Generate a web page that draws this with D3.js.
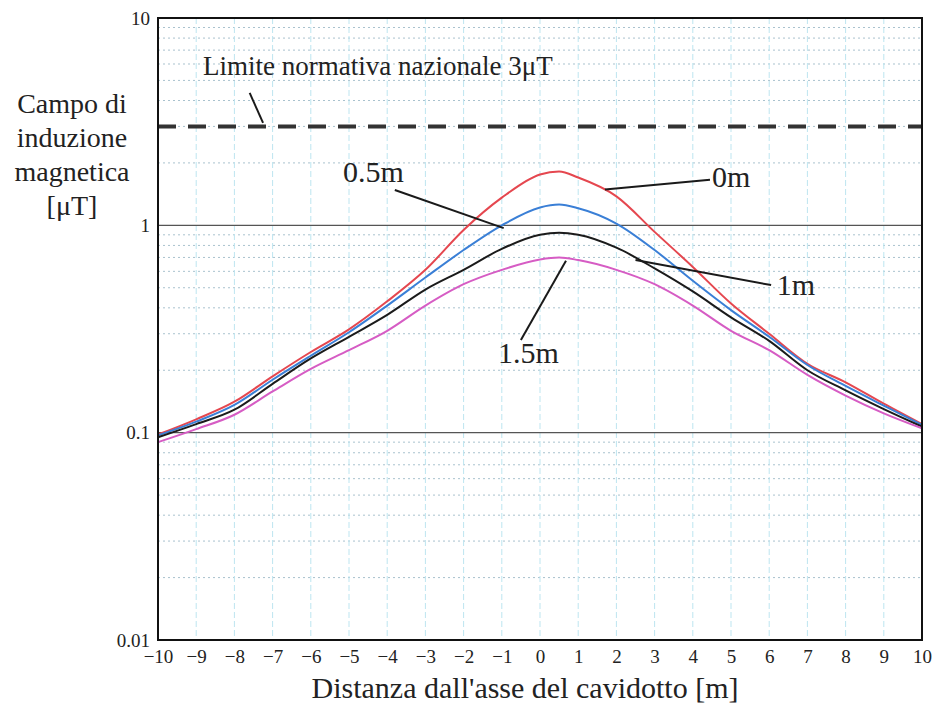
<!DOCTYPE html>
<html>
<head>
<meta charset="utf-8">
<script src="https://cdn.jsdelivr.net/npm/d3@7"></script>
<style>
  body { margin: 0; background: #fff; }
  svg { display: block; }
  text { font-family: "Liberation Serif", "DejaVu Serif", serif; fill: #222; }
</style>
</head>
<body>
<div id="container"></div>
<script>
// distances from the cable axis [m]
const distances = [-10, -9, -8, -7, -6, -5, -4, -3, -2, -1, 0, 0.5, 1, 2, 3, 4, 5, 6, 7, 8, 9, 10];

// field values [uT] for each depth
const field0m   = [0.098, 0.116, 0.141, 0.187, 0.245, 0.315, 0.43, 0.61, 0.95, 1.36, 1.76, 1.82, 1.7, 1.38, 0.93, 0.63, 0.42, 0.30, 0.215, 0.175, 0.138, 0.11];
const field05m  = [0.097, 0.113, 0.136, 0.18, 0.235, 0.305, 0.41, 0.56, 0.76, 1.0, 1.22, 1.26, 1.21, 1.02, 0.76, 0.54, 0.39, 0.29, 0.212, 0.168, 0.135, 0.109];
const field1m   = [0.095, 0.11, 0.129, 0.172, 0.228, 0.29, 0.37, 0.49, 0.61, 0.77, 0.9, 0.92, 0.9, 0.78, 0.62, 0.48, 0.36, 0.277, 0.2, 0.16, 0.13, 0.107];
const field15m  = [0.09, 0.104, 0.122, 0.158, 0.203, 0.25, 0.31, 0.41, 0.52, 0.61, 0.685, 0.7, 0.68, 0.61, 0.52, 0.41, 0.31, 0.25, 0.19, 0.151, 0.124, 0.105];

const seriesNames = ["0m", "0.5m", "1m", "1.5m"];
const seriesColors = ["#e5474f", "#3a7fd6", "#1b1b1b", "#d65cc4"];

const limitValue = 3;

const xTicks = d3.range(-10, 11);
const yTicks = [0.01, 0.1, 1, 10];
const yMajorLines = [0.1, 1];

// annotation labels: [text, text x, text y, leader from x, from y, to x, to y] in data units
const notes = [
    ["Limite normativa nazionale 3\u03bcT", -8.82, 5.3, -7.6, 4.35, -7.25, 3.12],
    ["0.5m", -5.16, 1.62, -3.8, 1.48, -0.95, 0.97],
    ["0m", 4.5, 1.53, 4.45, 1.66, 1.7, 1.49],
    ["1m", 6.2, 0.46, 6.05, 0.515, 2.5, 0.68],
    ["1.5m", -1.1, 0.217, -0.5, 0.28, 0.68, 0.675]
];

const yTitle = ["Campo di", "induzione", "magnetica", "[\u03bcT]"];
const xTitle = "Distanza dall'asse del cavidotto [m]";

let width = 938,
    height = 712,
    margin = { top: 18, right: 16, bottom: 72, left: 158 };

const svg = d3.select("#container").append("svg")
    .attr("width", width)
    .attr("height", height);

const x = d3.scaleLinear()
    .domain([-10, 10])
    .range([margin.left, width - margin.right]);

const y = d3.scaleLog()
    .domain([0.01, 10])
    .range([height - margin.bottom, margin.top]);

// grid
let minorY = [];
[0.01, 0.1, 1].forEach(dec => {
    for (let k = 2; k <= 9; k++) minorY.push(dec * k);
});

svg.append("g").selectAll("line")
    .data(minorY)
    .enter().append("line")
    .attr("x1", x(-10)).attr("x2", x(10))
    .attr("y1", d => y(d)).attr("y2", d => y(d))
    .attr("stroke", "#a9c2ce")
    .attr("stroke-width", 1)
    .attr("stroke-dasharray", "2,3");

svg.append("g").selectAll("line")
    .data(xTicks.slice(1, -1))
    .enter().append("line")
    .attr("x1", d => x(d)).attr("x2", d => x(d))
    .attr("y1", y(10)).attr("y2", y(0.01))
    .attr("stroke", "#bde5f0")
    .attr("stroke-width", 1)
    .attr("stroke-dasharray", "6,3");

svg.append("g").selectAll("line")
    .data(yMajorLines)
    .enter().append("line")
    .attr("x1", x(-10)).attr("x2", x(10))
    .attr("y1", d => y(d)).attr("y2", d => y(d))
    .attr("stroke", "#555")
    .attr("stroke-width", 1.2);

// limit line
svg.append("line")
    .attr("x1", x(-10)).attr("x2", x(10))
    .attr("y1", y(limitValue)).attr("y2", y(limitValue))
    .attr("stroke", "#333")
    .attr("stroke-width", 4)
    .attr("stroke-dasharray", "18,12");

// curves
const allSeries = [field0m, field05m, field1m, field15m];
const line = d3.line()
    .x((d, i) => x(distances[i]))
    .y(d => y(d))
    .curve(d3.curveMonotoneX);

svg.append("g").selectAll("path")
    .data(allSeries)
    .enter().append("path")
    .attr("d", d => line(d))
    .attr("fill", "none")
    .attr("stroke", (d, i) => seriesColors[i])
    .attr("stroke-width", 2);

// frame
svg.append("rect")
    .attr("x", x(-10)).attr("y", y(10))
    .attr("width", x(10) - x(-10))
    .attr("height", y(0.01) - y(10))
    .attr("fill", "none")
    .attr("stroke", "#111")
    .attr("stroke-width", 2);

// axes
const xAxis = d3.axisBottom(x)
    .tickValues(xTicks)
    .tickSize(0)
    .tickPadding(10)
    .tickFormat(d => d < 0 ? "\u2212" + Math.abs(d) : String(d));

const yAxis = d3.axisLeft(y)
    .tickValues(yTicks)
    .tickSize(0)
    .tickPadding(8)
    .tickFormat(d => String(d));

svg.append("g")
    .attr("class", "x axis")
    .attr("transform", `translate(0, ${y(0.01)})`)
    .call(xAxis)
    .call(g => g.select(".domain").remove())
    .selectAll("text")
    .style("font-family", "Liberation Serif")
    .attr("font-size", 19)
    .attr("fill", "#222");

svg.append("g")
    .attr("class", "y axis")
    .attr("transform", `translate(${x(-10)}, 0)`)
    .call(yAxis)
    .call(g => g.select(".domain").remove())
    .selectAll("text")
    .style("font-family", "Liberation Serif")
    .attr("font-size", 19)
    .attr("fill", "#222");

// annotations
const notesG = svg.append("g");
notesG.selectAll("line")
    .data(notes)
    .enter().append("line")
    .attr("x1", d => x(d[3])).attr("y1", d => y(d[4]))
    .attr("x2", d => x(d[5])).attr("y2", d => y(d[6]))
    .attr("stroke", "#1a1a1a")
    .attr("stroke-width", 2);

notesG.selectAll("text")
    .data(notes)
    .enter().append("text")
    .attr("x", d => x(d[1]))
    .attr("y", d => y(d[2]))
    .attr("font-size", (d, i) => i === 0 ? 27 : 30)
    .text(d => d[0]);

// titles
svg.append("text")
    .attr("x", 525)
    .attr("y", 698)
    .attr("text-anchor", "middle")
    .attr("font-size", 30)
    .text(xTitle);

svg.append("g").selectAll("text")
    .data(yTitle)
    .enter().append("text")
    .attr("x", 72)
    .attr("y", (d, i) => 113 + i * 34)
    .attr("text-anchor", "middle")
    .attr("font-size", 28)
    .text(d => d);
</script>
</body>
</html>
